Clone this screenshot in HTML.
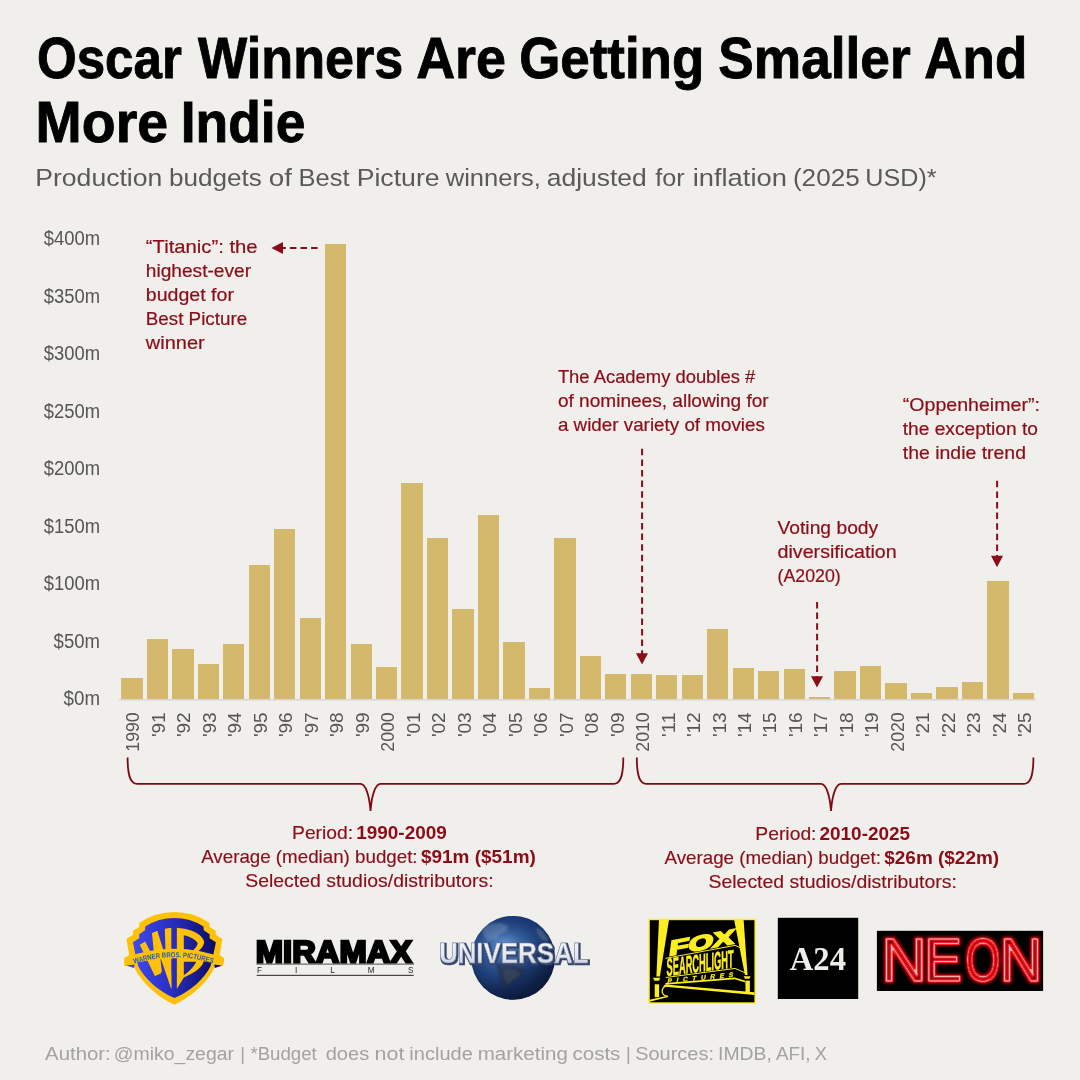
<!DOCTYPE html>
<html lang="en">
<head>
<meta charset="utf-8">
<title>Oscar Winners Are Getting Smaller And More Indie</title>
<style>
html,body{margin:0;padding:0;background:#f1efec;}
body{width:1080px;height:1080px;overflow:hidden;font-family:"Liberation Sans", "DejaVu Sans", sans-serif;}
svg{display:block;}
svg{font-family:"Liberation Sans", "DejaVu Sans", sans-serif;}
</style>
</head>
<body>
<svg width="1080" height="1080" viewBox="0 0 1080 1080">
<rect x="0" y="0" width="1080" height="1080" fill="#f1efec"/>

<g id="title">
<text y="78.00" font-size="57.5" font-weight="bold" fill="#000000" stroke="#000" stroke-width="0.9"><tspan x="36.99" textLength="144.77" lengthAdjust="spacingAndGlyphs">Oscar</tspan> <tspan x="198.10" textLength="205.20" lengthAdjust="spacingAndGlyphs">Winners</tspan> <tspan x="416.23" textLength="89.77" lengthAdjust="spacingAndGlyphs">Are</tspan> <tspan x="519.14" textLength="185.09" lengthAdjust="spacingAndGlyphs">Getting</tspan> <tspan x="718.29" textLength="192.44" lengthAdjust="spacingAndGlyphs">Smaller</tspan> <tspan x="924.34" textLength="102.89" lengthAdjust="spacingAndGlyphs">And</tspan></text>
<text y="142.30" font-size="57.5" font-weight="bold" fill="#000000" stroke="#000" stroke-width="0.9"><tspan x="35.62" textLength="132.48" lengthAdjust="spacingAndGlyphs">More</tspan> <tspan x="180.76" textLength="124.68" lengthAdjust="spacingAndGlyphs">Indie</tspan></text>
<text y="186.30" font-size="24.8" fill="#595959"><tspan x="35.27" textLength="127.05" lengthAdjust="spacingAndGlyphs">Production</tspan> <tspan x="168.92" textLength="92.87" lengthAdjust="spacingAndGlyphs">budgets</tspan> <tspan x="268.68" textLength="23.19" lengthAdjust="spacingAndGlyphs">of</tspan> <tspan x="298.57" textLength="51.04" lengthAdjust="spacingAndGlyphs">Best</tspan> <tspan x="356.67" textLength="82.99" lengthAdjust="spacingAndGlyphs">Picture</tspan> <tspan x="445.71" textLength="95.14" lengthAdjust="spacingAndGlyphs">winners,</tspan> <tspan x="546.80" textLength="99.97" lengthAdjust="spacingAndGlyphs">adjusted</tspan> <tspan x="655.18" textLength="29.37" lengthAdjust="spacingAndGlyphs">for</tspan> <tspan x="692.67" textLength="94.22" lengthAdjust="spacingAndGlyphs">inflation</tspan> <tspan x="792.90" textLength="66.88" lengthAdjust="spacingAndGlyphs">(2025</tspan> <tspan x="865.30" textLength="71.24" lengthAdjust="spacingAndGlyphs">USD)*</tspan></text>
</g>
<g id="yaxis">
<text x="100.00" y="705.20" font-size="19.4" textLength="36.40" lengthAdjust="spacingAndGlyphs" text-anchor="end" fill="#555555">$0m</text>
<text x="100.00" y="647.70" font-size="19.4" textLength="46.40" lengthAdjust="spacingAndGlyphs" text-anchor="end" fill="#555555">$50m</text>
<text x="100.00" y="590.20" font-size="19.4" textLength="56.30" lengthAdjust="spacingAndGlyphs" text-anchor="end" fill="#555555">$100m</text>
<text x="100.00" y="532.70" font-size="19.4" textLength="56.30" lengthAdjust="spacingAndGlyphs" text-anchor="end" fill="#555555">$150m</text>
<text x="100.00" y="475.20" font-size="19.4" textLength="56.30" lengthAdjust="spacingAndGlyphs" text-anchor="end" fill="#555555">$200m</text>
<text x="100.00" y="417.70" font-size="19.4" textLength="56.30" lengthAdjust="spacingAndGlyphs" text-anchor="end" fill="#555555">$250m</text>
<text x="100.00" y="360.20" font-size="19.4" textLength="56.30" lengthAdjust="spacingAndGlyphs" text-anchor="end" fill="#555555">$300m</text>
<text x="100.00" y="302.70" font-size="19.4" textLength="56.30" lengthAdjust="spacingAndGlyphs" text-anchor="end" fill="#555555">$350m</text>
<text x="100.00" y="245.20" font-size="19.4" textLength="56.30" lengthAdjust="spacingAndGlyphs" text-anchor="end" fill="#555555">$400m</text>
</g>
<g id="bars" fill="#d4b96c">
<rect x="121" y="678" width="22" height="21"/>
<rect x="147" y="639" width="21" height="60"/>
<rect x="172" y="649" width="22" height="50"/>
<rect x="198" y="664" width="21" height="35"/>
<rect x="223" y="644" width="21" height="55"/>
<rect x="249" y="565" width="21" height="134"/>
<rect x="274" y="529" width="21" height="170"/>
<rect x="300" y="618" width="21" height="81"/>
<rect x="325" y="244" width="21" height="455"/>
<rect x="351" y="644" width="21" height="55"/>
<rect x="376" y="667" width="21" height="32"/>
<rect x="401" y="483" width="22" height="216"/>
<rect x="427" y="538" width="21" height="161"/>
<rect x="452" y="609" width="22" height="90"/>
<rect x="478" y="515" width="21" height="184"/>
<rect x="503" y="642" width="22" height="57"/>
<rect x="529" y="688" width="21" height="11"/>
<rect x="554" y="538" width="22" height="161"/>
<rect x="580" y="656" width="21" height="43"/>
<rect x="605" y="674" width="21" height="25"/>
<rect x="631" y="674" width="21" height="25"/>
<rect x="656" y="675" width="21" height="24"/>
<rect x="682" y="675" width="21" height="24"/>
<rect x="707" y="629" width="21" height="70"/>
<rect x="733" y="668" width="21" height="31"/>
<rect x="758" y="671" width="21" height="28"/>
<rect x="784" y="669" width="21" height="30"/>
<rect x="809" y="697" width="21" height="2"/>
<rect x="834" y="671" width="22" height="28"/>
<rect x="860" y="666" width="21" height="33"/>
<rect x="885" y="683" width="22" height="16"/>
<rect x="911" y="693" width="21" height="6"/>
<rect x="936" y="687" width="22" height="12"/>
<rect x="962" y="682" width="21" height="17"/>
<rect x="987" y="581" width="22" height="118"/>
<rect x="1013" y="693" width="21" height="6"/>
</g>
<rect x="119" y="699" width="917" height="1.6" fill="#d9d8d6"/>
<g id="xaxis">
<text transform="translate(139.40,712.3) rotate(-90)" text-anchor="end" font-size="19.2" textLength="39.4" lengthAdjust="spacingAndGlyphs" fill="#555555">1990</text>
<text transform="translate(164.88,712.3) rotate(-90)" text-anchor="end" font-size="19.2" textLength="24.8" lengthAdjust="spacingAndGlyphs" fill="#555555">'91</text>
<text transform="translate(190.37,712.3) rotate(-90)" text-anchor="end" font-size="19.2" textLength="24.8" lengthAdjust="spacingAndGlyphs" fill="#555555">'92</text>
<text transform="translate(215.85,712.3) rotate(-90)" text-anchor="end" font-size="19.2" textLength="24.8" lengthAdjust="spacingAndGlyphs" fill="#555555">'93</text>
<text transform="translate(241.33,712.3) rotate(-90)" text-anchor="end" font-size="19.2" textLength="24.8" lengthAdjust="spacingAndGlyphs" fill="#555555">'94</text>
<text transform="translate(266.81,712.3) rotate(-90)" text-anchor="end" font-size="19.2" textLength="24.8" lengthAdjust="spacingAndGlyphs" fill="#555555">'95</text>
<text transform="translate(292.30,712.3) rotate(-90)" text-anchor="end" font-size="19.2" textLength="24.8" lengthAdjust="spacingAndGlyphs" fill="#555555">'96</text>
<text transform="translate(317.78,712.3) rotate(-90)" text-anchor="end" font-size="19.2" textLength="24.8" lengthAdjust="spacingAndGlyphs" fill="#555555">'97</text>
<text transform="translate(343.26,712.3) rotate(-90)" text-anchor="end" font-size="19.2" textLength="24.8" lengthAdjust="spacingAndGlyphs" fill="#555555">'98</text>
<text transform="translate(368.75,712.3) rotate(-90)" text-anchor="end" font-size="19.2" textLength="24.8" lengthAdjust="spacingAndGlyphs" fill="#555555">'99</text>
<text transform="translate(394.23,712.3) rotate(-90)" text-anchor="end" font-size="19.2" textLength="39.4" lengthAdjust="spacingAndGlyphs" fill="#555555">2000</text>
<text transform="translate(419.71,712.3) rotate(-90)" text-anchor="end" font-size="19.2" textLength="24.8" lengthAdjust="spacingAndGlyphs" fill="#555555">'01</text>
<text transform="translate(445.20,712.3) rotate(-90)" text-anchor="end" font-size="19.2" textLength="24.8" lengthAdjust="spacingAndGlyphs" fill="#555555">'02</text>
<text transform="translate(470.68,712.3) rotate(-90)" text-anchor="end" font-size="19.2" textLength="24.8" lengthAdjust="spacingAndGlyphs" fill="#555555">'03</text>
<text transform="translate(496.16,712.3) rotate(-90)" text-anchor="end" font-size="19.2" textLength="24.8" lengthAdjust="spacingAndGlyphs" fill="#555555">'04</text>
<text transform="translate(521.64,712.3) rotate(-90)" text-anchor="end" font-size="19.2" textLength="24.8" lengthAdjust="spacingAndGlyphs" fill="#555555">'05</text>
<text transform="translate(547.13,712.3) rotate(-90)" text-anchor="end" font-size="19.2" textLength="24.8" lengthAdjust="spacingAndGlyphs" fill="#555555">'06</text>
<text transform="translate(572.61,712.3) rotate(-90)" text-anchor="end" font-size="19.2" textLength="24.8" lengthAdjust="spacingAndGlyphs" fill="#555555">'07</text>
<text transform="translate(598.09,712.3) rotate(-90)" text-anchor="end" font-size="19.2" textLength="24.8" lengthAdjust="spacingAndGlyphs" fill="#555555">'08</text>
<text transform="translate(623.58,712.3) rotate(-90)" text-anchor="end" font-size="19.2" textLength="24.8" lengthAdjust="spacingAndGlyphs" fill="#555555">'09</text>
<text transform="translate(649.06,712.3) rotate(-90)" text-anchor="end" font-size="19.2" textLength="39.4" lengthAdjust="spacingAndGlyphs" fill="#555555">2010</text>
<text transform="translate(674.54,712.3) rotate(-90)" text-anchor="end" font-size="19.2" textLength="24.8" lengthAdjust="spacingAndGlyphs" fill="#555555">'11</text>
<text transform="translate(700.03,712.3) rotate(-90)" text-anchor="end" font-size="19.2" textLength="24.8" lengthAdjust="spacingAndGlyphs" fill="#555555">'12</text>
<text transform="translate(725.51,712.3) rotate(-90)" text-anchor="end" font-size="19.2" textLength="24.8" lengthAdjust="spacingAndGlyphs" fill="#555555">'13</text>
<text transform="translate(750.99,712.3) rotate(-90)" text-anchor="end" font-size="19.2" textLength="24.8" lengthAdjust="spacingAndGlyphs" fill="#555555">'14</text>
<text transform="translate(776.48,712.3) rotate(-90)" text-anchor="end" font-size="19.2" textLength="24.8" lengthAdjust="spacingAndGlyphs" fill="#555555">'15</text>
<text transform="translate(801.96,712.3) rotate(-90)" text-anchor="end" font-size="19.2" textLength="24.8" lengthAdjust="spacingAndGlyphs" fill="#555555">'16</text>
<text transform="translate(827.44,712.3) rotate(-90)" text-anchor="end" font-size="19.2" textLength="24.8" lengthAdjust="spacingAndGlyphs" fill="#555555">'17</text>
<text transform="translate(852.92,712.3) rotate(-90)" text-anchor="end" font-size="19.2" textLength="24.8" lengthAdjust="spacingAndGlyphs" fill="#555555">'18</text>
<text transform="translate(878.41,712.3) rotate(-90)" text-anchor="end" font-size="19.2" textLength="24.8" lengthAdjust="spacingAndGlyphs" fill="#555555">'19</text>
<text transform="translate(903.89,712.3) rotate(-90)" text-anchor="end" font-size="19.2" textLength="39.4" lengthAdjust="spacingAndGlyphs" fill="#555555">2020</text>
<text transform="translate(929.37,712.3) rotate(-90)" text-anchor="end" font-size="19.2" textLength="24.8" lengthAdjust="spacingAndGlyphs" fill="#555555">'21</text>
<text transform="translate(954.86,712.3) rotate(-90)" text-anchor="end" font-size="19.2" textLength="24.8" lengthAdjust="spacingAndGlyphs" fill="#555555">'22</text>
<text transform="translate(980.34,712.3) rotate(-90)" text-anchor="end" font-size="19.2" textLength="24.8" lengthAdjust="spacingAndGlyphs" fill="#555555">'23</text>
<text transform="translate(1005.82,712.3) rotate(-90)" text-anchor="end" font-size="19.2" textLength="24.8" lengthAdjust="spacingAndGlyphs" fill="#555555">'24</text>
<text transform="translate(1031.31,712.3) rotate(-90)" text-anchor="end" font-size="19.2" textLength="24.8" lengthAdjust="spacingAndGlyphs" fill="#555555">'25</text>
</g>
<g id="annotations">
<text x="145.80" y="253.00" font-size="18.2" textLength="111.80" lengthAdjust="spacingAndGlyphs" fill="#8b0c17" stroke="#8b0c17" stroke-width="0.2">“Titanic”: the</text>
<text x="145.80" y="277.00" font-size="18.2" textLength="105.30" lengthAdjust="spacingAndGlyphs" fill="#8b0c17" stroke="#8b0c17" stroke-width="0.2">highest-ever</text>
<text x="145.80" y="301.00" font-size="18.2" textLength="88.10" lengthAdjust="spacingAndGlyphs" fill="#8b0c17" stroke="#8b0c17" stroke-width="0.2">budget for</text>
<text x="145.80" y="325.00" font-size="18.2" textLength="101.30" lengthAdjust="spacingAndGlyphs" fill="#8b0c17" stroke="#8b0c17" stroke-width="0.2">Best Picture</text>
<text x="145.80" y="349.00" font-size="18.2" textLength="58.90" lengthAdjust="spacingAndGlyphs" fill="#8b0c17" stroke="#8b0c17" stroke-width="0.2">winner</text>
<text x="557.90" y="383.10" font-size="18.2" textLength="197.30" lengthAdjust="spacingAndGlyphs" fill="#8b0c17" stroke="#8b0c17" stroke-width="0.2">The Academy doubles #</text>
<text x="557.90" y="407.10" font-size="18.2" textLength="210.80" lengthAdjust="spacingAndGlyphs" fill="#8b0c17" stroke="#8b0c17" stroke-width="0.2">of nominees, allowing for</text>
<text x="557.90" y="431.10" font-size="18.2" textLength="207.00" lengthAdjust="spacingAndGlyphs" fill="#8b0c17" stroke="#8b0c17" stroke-width="0.2">a wider variety of movies</text>
<text x="777.50" y="534.40" font-size="18.2" textLength="100.70" lengthAdjust="spacingAndGlyphs" fill="#8b0c17" stroke="#8b0c17" stroke-width="0.2">Voting body</text>
<text x="777.50" y="558.40" font-size="18.2" textLength="119.20" lengthAdjust="spacingAndGlyphs" fill="#8b0c17" stroke="#8b0c17" stroke-width="0.2">diversification</text>
<text x="777.50" y="582.40" font-size="18.2" textLength="63.20" lengthAdjust="spacingAndGlyphs" fill="#8b0c17" stroke="#8b0c17" stroke-width="0.2">(A2020)</text>
<text x="902.80" y="410.70" font-size="18.2" textLength="137.10" lengthAdjust="spacingAndGlyphs" fill="#8b0c17" stroke="#8b0c17" stroke-width="0.2">“Oppenheimer”:</text>
<text x="902.80" y="434.70" font-size="18.2" textLength="135.10" lengthAdjust="spacingAndGlyphs" fill="#8b0c17" stroke="#8b0c17" stroke-width="0.2">the exception to</text>
<text x="902.80" y="458.70" font-size="18.2" textLength="123.20" lengthAdjust="spacingAndGlyphs" fill="#8b0c17" stroke="#8b0c17" stroke-width="0.2">the indie trend</text>
</g>
<g id="arrows" stroke="#8b0c17" stroke-width="2" fill="none" stroke-dasharray="6.5 4.1">
<path d="M317.6,248 H283"/>
<path d="M642.1,448.8 V654"/>
<path d="M817.1,602 V677"/>
<path d="M997.1,480.8 V556.5"/>
</g>
<g fill="#8b0c17">
<path d="M271.4,248 L283,241.9 V254.1 Z"/>
<path d="M642,664.6 L636,653.2 H648 Z"/>
<path d="M817,687.6 L811,676.2 H823 Z"/>
<path d="M997,567.2 L991,555.8 H1003 Z"/>
</g>
<g id="braces" stroke="#7e0b14" stroke-width="1.8" fill="none">
<path d="M127.6,757.6 C127.6,778.9 131.6,783.9 137.1,783.9 H360.5 C365.5,783.9 369.3,794.9 370.5,811 C371.7,794.9 375.5,783.9 380.5,783.9 H613.8 C619.3,783.9 623.3,778.9 623.3,757.6"/>
<path d="M636.8,757.6 C636.8,778.9 640.8,783.9 646.3,783.9 H821 C826,783.9 829.8,794.9 831,811 C832.2,794.9 836,783.9 841,783.9 H1023.9000000000001 C1029.4,783.9 1033.4,778.9 1033.4,757.6"/>
</g>
<g id="periods">
<text x="292.00" y="839.30" font-size="18.2" textLength="61.20" lengthAdjust="spacingAndGlyphs" fill="#8b0c17" stroke="#8b0c17" stroke-width="0.15">Period:</text>
<text x="356.20" y="839.30" font-size="18.2" textLength="90.60" lengthAdjust="spacingAndGlyphs" font-weight="bold" fill="#8b0c17">1990-2009</text>
<text x="201.20" y="863.30" font-size="18.2" textLength="216.40" lengthAdjust="spacingAndGlyphs" fill="#8b0c17" stroke="#8b0c17" stroke-width="0.15">Average (median) budget:</text>
<text x="421.00" y="863.30" font-size="18.2" textLength="114.80" lengthAdjust="spacingAndGlyphs" font-weight="bold" fill="#8b0c17">$91m ($51m)</text>
<text x="245.20" y="887.30" font-size="18.2" textLength="248.40" lengthAdjust="spacingAndGlyphs" fill="#8b0c17" stroke="#8b0c17" stroke-width="0.15">Selected studios/distributors:</text>
<text x="755.30" y="840.00" font-size="18.2" textLength="61.20" lengthAdjust="spacingAndGlyphs" fill="#8b0c17" stroke="#8b0c17" stroke-width="0.15">Period:</text>
<text x="819.50" y="840.00" font-size="18.2" textLength="90.60" lengthAdjust="spacingAndGlyphs" font-weight="bold" fill="#8b0c17">2010-2025</text>
<text x="664.50" y="864.00" font-size="18.2" textLength="216.40" lengthAdjust="spacingAndGlyphs" fill="#8b0c17" stroke="#8b0c17" stroke-width="0.15">Average (median) budget:</text>
<text x="884.30" y="864.00" font-size="18.2" textLength="114.80" lengthAdjust="spacingAndGlyphs" font-weight="bold" fill="#8b0c17">$26m ($22m)</text>
<text x="708.50" y="888.00" font-size="18.2" textLength="248.40" lengthAdjust="spacingAndGlyphs" fill="#8b0c17" stroke="#8b0c17" stroke-width="0.15">Selected studios/distributors:</text>
</g>
<text y="1059.80" font-size="18.3" fill="#a2a2a0"><tspan x="45.11" textLength="65.63" lengthAdjust="spacingAndGlyphs">Author:</tspan> <tspan x="113.89" textLength="120.11" lengthAdjust="spacingAndGlyphs">@miko_zegar</tspan> <tspan x="240.16">|</tspan> <tspan x="250.42" textLength="66.36" lengthAdjust="spacingAndGlyphs">*Budget</tspan> <tspan x="325.69" textLength="43.53" lengthAdjust="spacingAndGlyphs">does</tspan> <tspan x="374.60" textLength="29.80" lengthAdjust="spacingAndGlyphs">not</tspan> <tspan x="409.37" textLength="63.45" lengthAdjust="spacingAndGlyphs">include</tspan> <tspan x="477.77" textLength="90.04" lengthAdjust="spacingAndGlyphs">marketing</tspan> <tspan x="572.55" textLength="47.76" lengthAdjust="spacingAndGlyphs">costs</tspan> <tspan x="625.91">|</tspan> <tspan x="635.21" textLength="78.78" lengthAdjust="spacingAndGlyphs">Sources:</tspan> <tspan x="718.01" textLength="53.78" lengthAdjust="spacingAndGlyphs">IMDB,</tspan> <tspan x="776.00" textLength="34.61" lengthAdjust="spacingAndGlyphs">AFI,</tspan> <tspan x="814.74">X</tspan></text>
<g id="logo-wb">
<defs>
<linearGradient id="wbblue" x1="0" y1="0" x2="1" y2="0">
<stop offset="0" stop-color="#3f4bf0"/><stop offset="0.45" stop-color="#2a2fc4"/><stop offset="1" stop-color="#0c0c62"/>
</linearGradient>
<path id="wbarc" d="M134.2,963.9 Q174.4,950.3 215,964.3"/>
</defs>
<path fill="#ffc107" d="M174.4,912 A62.1,62.1 0 0 1 209.4,922.8 L209.6,927 L215.8,930.8 L215.8,934.8 L222.4,938.9 L219.6,955 L224.3,958.2 L222.8,966 L215,966 C210,979 194,996 174.4,1004.7 C155,996 139,979 133.8,966 L124.5,966 L124.3,957.9 L129.2,955 L126.4,938.9 L133,934.8 L133,930.8 L139.2,927 L139.4,922.8 A62.1,62.1 0 0 1 174.4,912 Z"/>
<path fill="url(#wbblue)" d="M174.4,918 A54.6,54.6 0 0 1 203.5,926.4 L203.8,930.3 L209.6,934.2 L209.6,938.3 L215.9,942.2 L213.5,954 L210.6,966 C205,978 191,991 174.4,998.1 C158,991 144,978 138.2,966 L135.3,954 L132.9,942.2 L139.2,938.3 L139.2,934.2 L145,930.3 L145.3,926.4 A54.6,54.6 0 0 1 174.4,918 Z"/>
<polygon points="139.81,944.81 145.19,941.48 161.30,973.24 154.81,976.11" fill="#ffc107"/>
<polygon points="152.04,933.15 157.41,931.11 161.85,971.85 156.02,975.56" fill="#ffc107"/>
<polygon points="152.04,933.15 157.41,931.11 171.30,975.56 171.30,988.98" fill="#ffc107"/>
<polygon points="164.81,928.80 171.30,927.87 171.30,988.98 166.20,971.85" fill="#ffc107"/>
<path fill="#ffc107" fill-rule="evenodd" d="M176.85,927.87 L184.26,928.80 C193.52,930.19 202.31,934.81 204.17,941.76 C203.70,946.39 200.46,949.63 197.22,951.94 L203.89,960.74 C202.59,966.76 195.83,972.31 183.80,977.41 L176.85,988.98 Z M183.80,935.28 C189.81,936.67 196.76,939.91 197.69,943.61 C196.76,946.85 194.91,948.70 193.06,950.56 L183.80,950.56 Z M183.80,961.67 L196.30,961.85 C193.52,967.22 188.89,971.85 183.80,975.37 Z"/>
<polygon points="126.2,965.6 134.6,964.6 134,968" fill="#3a45e2"/>
<polygon points="222.6,965.6 214.2,964.6 214.8,968" fill="#0d0d66"/>
<path fill="#ffc107" d="M124.3,957.9 Q174.4,939.6 224.3,958.2 L222.8,966 Q174.4,950.6 124.5,966 Z"/>
<text font-size="7.4" font-weight="bold" fill="#1f62ad" font-family='"Liberation Sans", "DejaVu Sans", sans-serif'><textPath href="#wbarc" textLength="80" lengthAdjust="spacingAndGlyphs">WARNER BROS. PICTURES</textPath></text>
</g>
<g id="logo-miramax">
<text x="255.8" y="962.6" font-size="31.5" font-weight="bold" fill="#000" stroke="#000" stroke-width="2.5" stroke-linejoin="miter" textLength="156.4" lengthAdjust="spacingAndGlyphs" font-family='"Liberation Sans", "DejaVu Sans", sans-serif'>MIRAMAX</text>
<rect x="256.7" y="963.4" width="157" height="1.6" fill="#8c8c8c"/>
<text x="257 295 330.3 367.8 408" y="973.4" font-size="8.2" fill="#222" font-family='"Liberation Sans", "DejaVu Sans", sans-serif'>FILMS</text>
<rect x="256.7" y="974.8" width="157" height="1.1" fill="#333"/>
</g>
<g id="logo-universal">
<defs>
<radialGradient id="globe" cx="0.40" cy="0.34" r="0.78">
<stop offset="0" stop-color="#6390cc"/><stop offset="0.25" stop-color="#3865a3"/><stop offset="0.52" stop-color="#1e4079"/><stop offset="0.78" stop-color="#11264f"/><stop offset="1" stop-color="#0b1a3a"/>
</radialGradient>
<linearGradient id="globetop" x1="0" y1="0" x2="0" y2="1">
<stop offset="0" stop-color="#14306a" stop-opacity="0.75"/><stop offset="0.3" stop-color="#14306a" stop-opacity="0"/>
</linearGradient>
<linearGradient id="globedark" x1="0.25" y1="0.2" x2="0.8" y2="1">
<stop offset="0.45" stop-color="#081430" stop-opacity="0"/><stop offset="1" stop-color="#081430" stop-opacity="0.6"/>
</linearGradient>
<clipPath id="globeclip"><circle cx="513.1" cy="957.8" r="41.9"/></clipPath>
<linearGradient id="silver" x1="0" y1="0" x2="0" y2="1">
<stop offset="0" stop-color="#f7f8fc"/><stop offset="0.6" stop-color="#e3e7f0"/><stop offset="1" stop-color="#b9c2d6"/>
</linearGradient>
</defs>
<circle cx="513.1" cy="957.8" r="41.9" fill="url(#globe)"/>
<circle cx="513.1" cy="957.8" r="41.9" fill="url(#globetop)"/>
<circle cx="513.1" cy="957.8" r="41.9" fill="url(#globedark)"/>
<filter id="soft" x="-20%" y="-20%" width="140%" height="140%"><feGaussianBlur stdDeviation="0.9"/></filter>
<g clip-path="url(#globeclip)"><g filter="url(#soft)">
<polygon points="482.59,928.52 489.07,923.89 500.19,922.96 508.52,925.74 506.67,931.30 500.19,934.07 495.56,939.63 488.15,940.56 483.52,935.93" fill="#a9bad2" opacity="0.28"/>
<polygon points="535.37,927.59 540.93,929.44 547.41,936.85 548.33,941.48 542.78,940.56 538.15,935.00" fill="#9aa8bd" opacity="0.30"/>
<polygon points="495.56,963.24 513.15,964.17 526.11,970.19 521.48,976.67 511.30,984.07 503.89,990.09 500.19,980.37 496.94,970.19" fill="#222c44" opacity="0.62"/>
<polygon points="503.89,969.26 516.85,970.19 520.56,973.89 513.15,980.37 506.67,984.07 503.89,976.67" fill="#7d7460" opacity="0.22"/>
</g></g>
<filter id="ushadow" x="-5%" y="-20%" width="110%" height="150%"><feMorphology in="SourceAlpha" operator="dilate" radius="0.6" result="fat"/><feOffset in="fat" dx="1.2" dy="1.4" result="off"/><feFlood flood-color="#36446c"/><feComposite in2="off" operator="in" result="sh"/><feMerge><feMergeNode in="sh"/><feMergeNode in="SourceGraphic"/></feMerge></filter>
<text x="439" y="963.2" font-size="28.8" font-weight="bold" textLength="149.5" lengthAdjust="spacingAndGlyphs" font-family='"Liberation Sans", "DejaVu Sans", sans-serif' fill="url(#silver)" stroke="#7d89a8" stroke-width="0.5" filter="url(#ushadow)">UNIVERSAL</text>
</g>
<g id="logo-fox">
<rect x="648.4" y="918.8" width="107.4" height="84.9" fill="#fdee21"/>
<rect x="649.8" y="920.2" width="104.6" height="82.1" fill="#000"/>
<polygon points="658.98,920.09 668.96,920.09 659.89,976.48 656.39,976.48" fill="#fdee21"/>
<polygon points="734.17,920.09 743.63,920.09 747.52,974.93 744.93,974.93" fill="#fdee21"/>
<polygon points="652.89,977.78 660.28,977.78 658.98,980.63 654.45,980.63" fill="#fdee21"/>
<polygon points="654.70,984.26 659.11,984.26 659.11,997.23 654.70,997.23" fill="#fdee21"/>
<polygon points="743.63,976.23 750.63,976.23 749.34,978.82 744.93,978.82" fill="#fdee21"/>
<polygon points="745.45,980.63 749.86,980.63 749.86,992.69 745.45,992.69" fill="#fdee21"/>
<polygon points="662.87,986.60 665.08,984.52 754.52,992.30 754.52,994.89" fill="#fdee21"/>
<polygon points="649.65,999.82 667.41,995.67 668.06,996.97 649.65,1001.76" fill="#fdee21"/>
<polygon points="665.46,982.97 734.82,977.52 745.19,980.63 745.19,982.45 734.82,979.34 665.46,984.78" fill="#fdee21"/>
<g fill="none" stroke="#fdee21" stroke-width="1">
<polyline points="665.59,958.34 735.08,945.37 740.26,947.71"/>
<polyline points="665.59,977.52 735.08,968.45 745.19,972.85"/>
<path d="M668.96,985.04 C660.28,986.60 659.63,995.28 668.19,996.45" stroke-width="1.3"/>
</g>
<text transform="translate(668.4,955.8) skewY(-10.6) skewX(-8)" font-size="20.5" textLength="65" stroke="#fdee21" stroke-width="1.7" stroke-linejoin="miter" font-weight="bold" fill="#fdee21" font-family='"Liberation Sans", "DejaVu Sans", sans-serif' lengthAdjust="spacingAndGlyphs">FOX</text>
<text transform="translate(666.6,976.0) skewY(-7.4)" font-size="25" textLength="67" font-weight="bold" fill="#fdee21" stroke="#fdee21" stroke-width="0.5" font-family='"Liberation Sans", "DejaVu Sans", sans-serif' lengthAdjust="spacingAndGlyphs">SEARCHLIGHT</text>
<text transform="translate(667.6,983.3) skewY(-5.6)" font-size="6.6" textLength="65.5" font-weight="bold" font-style="italic" fill="#fdee21" stroke="#fdee21" stroke-width="0.25" font-family='"Liberation Sans", "DejaVu Sans", sans-serif' lengthAdjust="spacing">PICTURES</text>
</g>
<g id="logo-a24">
<rect x="777.8" y="917.8" width="80.4" height="81.2" fill="#000"/>
<text x="789.8" y="969.9" font-size="33.6" font-weight="bold" fill="#efede9" textLength="56.2" lengthAdjust="spacingAndGlyphs" font-family='"Liberation Serif", "DejaVu Serif", serif'>A24</text>
</g>
<g id="logo-neon">
<defs><filter id="neonfx" x="-10%" y="-30%" width="120%" height="160%">
<feMorphology in="SourceAlpha" operator="dilate" radius="0.5" result="fat"/>
<feGaussianBlur in="fat" stdDeviation="1.7" result="blur"/>
<feFlood flood-color="#f00a14" flood-opacity="0.8"/><feComposite in2="blur" operator="in" result="glow"/>
<feMorphology in="SourceAlpha" operator="erode" radius="0.9" result="thin"/>
<feGaussianBlur in="thin" stdDeviation="0.35" result="thinb"/>
<feFlood flood-color="#ffc4c8"/><feComposite in2="thinb" operator="in" result="core"/>
<feMerge><feMergeNode in="glow"/><feMergeNode in="SourceGraphic"/><feMergeNode in="core"/></feMerge>
</filter></defs>
<rect x="876.9" y="930.8" width="166.2" height="60.2" fill="#000"/>
<clipPath id="neonclip"><rect x="876.9" y="930.8" width="166.2" height="60.2"/></clipPath>
<g clip-path="url(#neonclip)">
<text y="981.05" font-size="60.47" font-family='"Liberation Sans", "DejaVu Sans", sans-serif' stroke-linejoin="round" fill="none" stroke="#ff2630" stroke-width="2.7" filter="url(#neonfx)"><tspan x="881.27" textLength="45.64" lengthAdjust="spacingAndGlyphs">N</tspan><tspan x="924.32" textLength="37.66" lengthAdjust="spacingAndGlyphs">E</tspan><tspan x="965.43" textLength="34.75" lengthAdjust="spacingAndGlyphs">O</tspan><tspan x="999.72" textLength="42.53" lengthAdjust="spacingAndGlyphs">N</tspan></text>
</g>
</g>
</svg>
</body>
</html>
